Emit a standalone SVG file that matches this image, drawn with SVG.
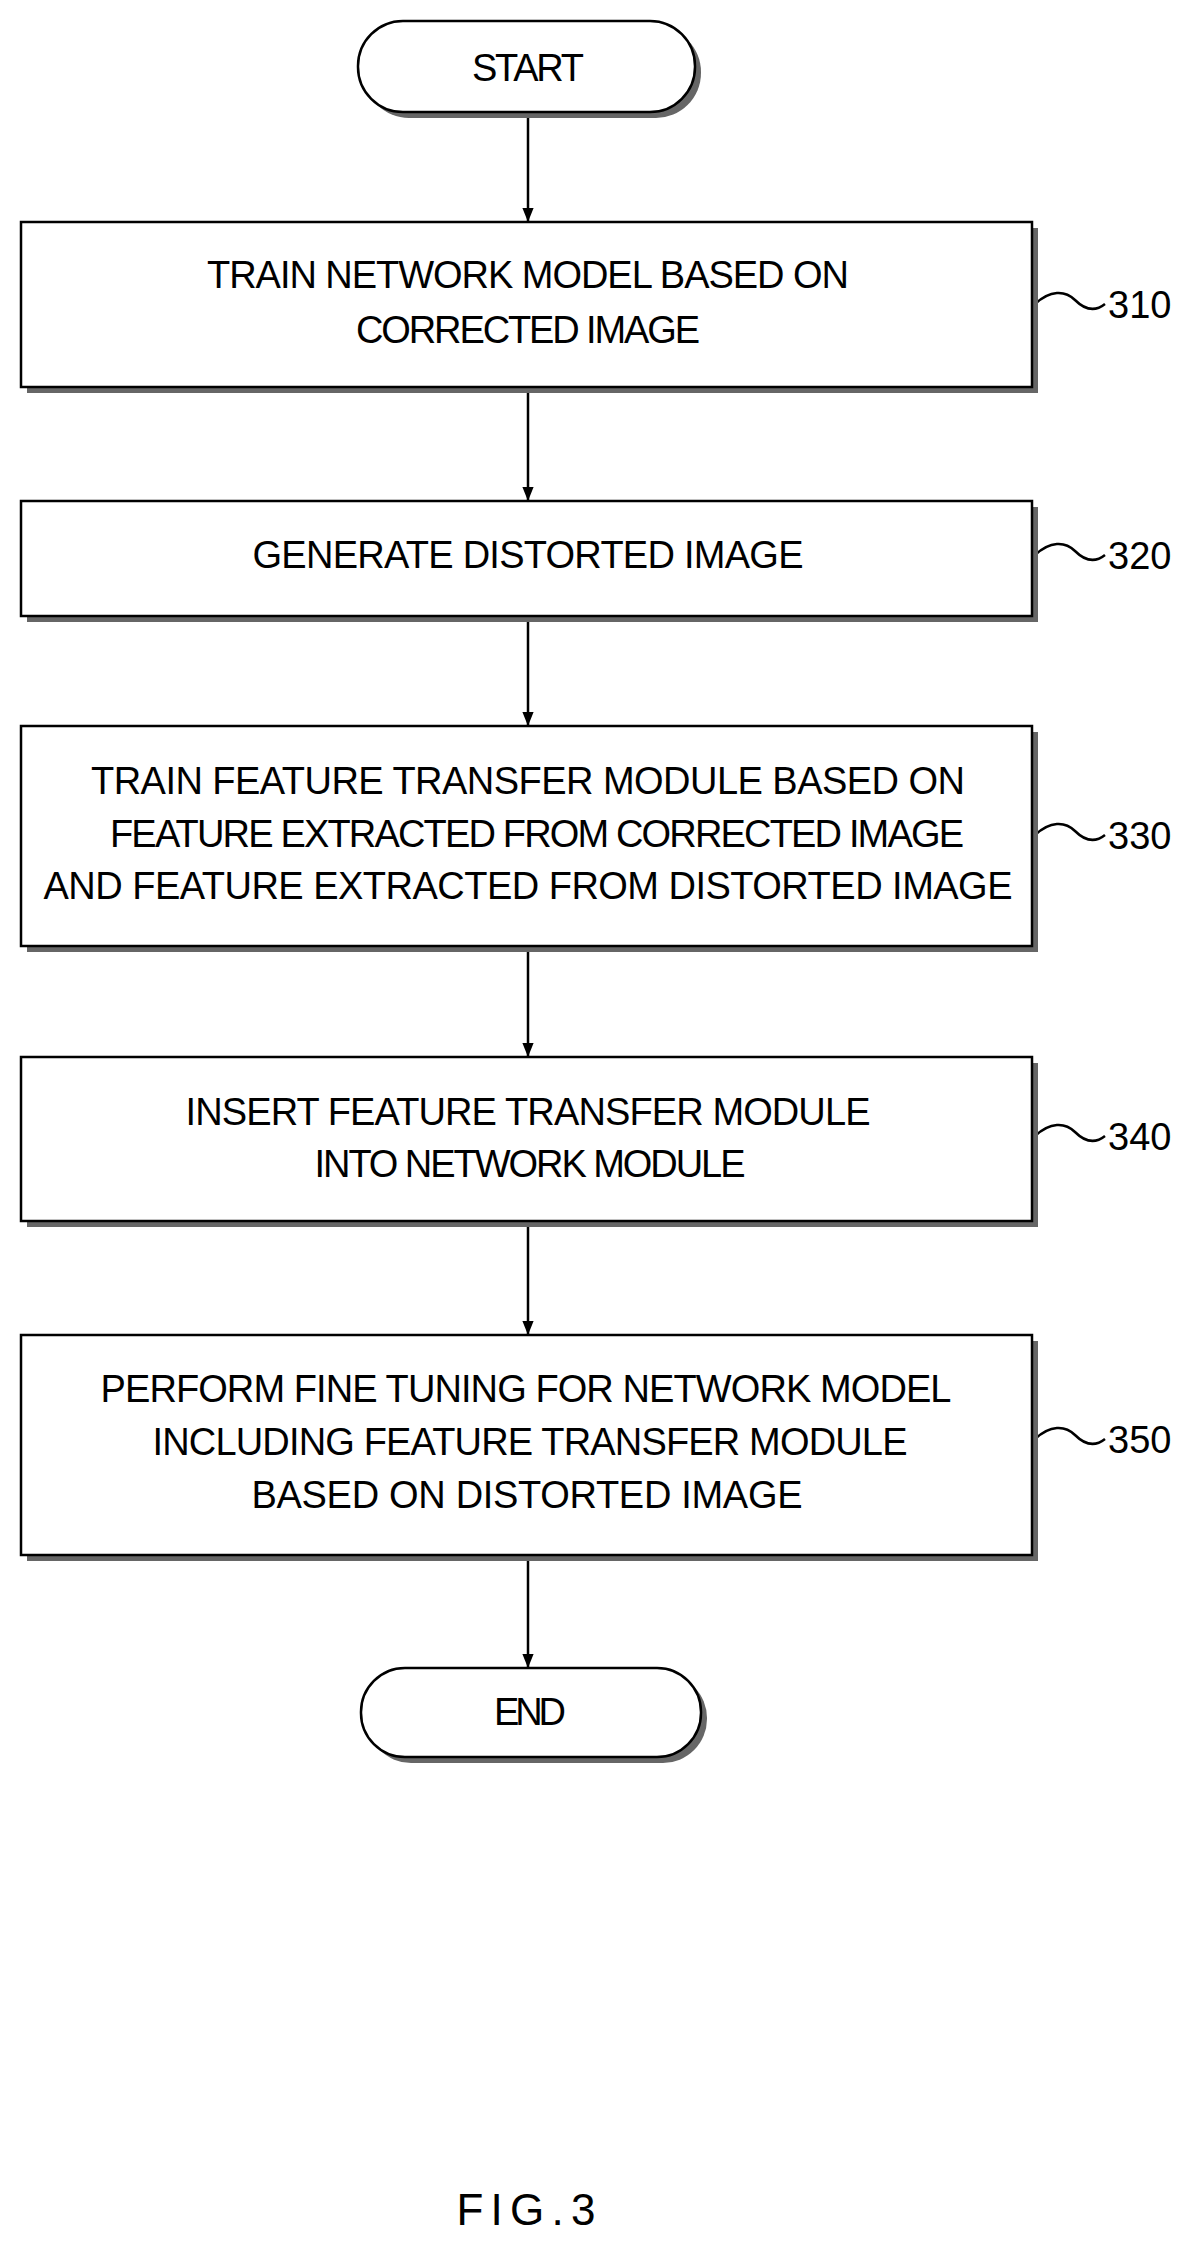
<svg xmlns="http://www.w3.org/2000/svg" width="1198" height="2247" viewBox="0 0 1198 2247">
<style>
.b{fill:#fff;stroke:#000;stroke-width:2.5}
.s{fill:#666}
.t{font-family:"Liberation Sans",sans-serif;font-size:38px;fill:#000;text-anchor:middle}
.l{font-family:"Liberation Sans",sans-serif;font-size:38px;fill:#000}
.c{stroke:#000;stroke-width:2.5;fill:none}
</style>
<defs><marker id="a" viewBox="0 0 10 10" refX="10" refY="5" markerWidth="14" markerHeight="14" markerUnits="userSpaceOnUse" orient="auto"><path d="M0,1 L10,5 L0,9 Z" fill="#000"/></marker></defs>
<rect width="1198" height="2247" fill="#fff"/>
<g id="connectors">
<line class="c" x1="528" y1="112" x2="528" y2="222" marker-end="url(#a)"/>
<line class="c" x1="528" y1="391" x2="528" y2="501" marker-end="url(#a)"/>
<line class="c" x1="528" y1="620" x2="528" y2="726" marker-end="url(#a)"/>
<line class="c" x1="528" y1="950" x2="528" y2="1057" marker-end="url(#a)"/>
<line class="c" x1="528" y1="1225" x2="528" y2="1335" marker-end="url(#a)"/>
<line class="c" x1="528" y1="1559" x2="528" y2="1668" marker-end="url(#a)"/>
<path class="c" d="M1035,304 C1050,290 1065,290 1075,300 C1085,310 1095,312 1105,304"/>
<path class="c" d="M1035,555 C1050,541 1065,541 1075,551 C1085,561 1095,563 1105,555"/>
<path class="c" d="M1035,835 C1050,821 1065,821 1075,831 C1085,841 1095,843 1105,835"/>
<path class="c" d="M1035,1136 C1050,1122 1065,1122 1075,1132 C1085,1142 1095,1144 1105,1136"/>
<path class="c" d="M1035,1439 C1050,1425 1065,1425 1075,1435 C1085,1445 1095,1447 1105,1439"/>
</g>
<g id="start"><rect class="s" x="364" y="27" width="337" height="91" rx="45"/><rect class="b" x="358" y="21" width="337" height="91" rx="45"/><text class="t" x="528" y="81" textLength="112">START</text></g>
<g id="n310"><rect class="s" x="27" y="228" width="1011" height="165"/><rect class="b" x="21" y="222" width="1011" height="165"/><text class="t" x="528" y="288" textLength="642">TRAIN NETWORK MODEL BASED ON</text><text class="t" x="528" y="343" textLength="344">CORRECTED IMAGE</text><text class="l" x="1108" y="318">310</text></g>
<g id="n320"><rect class="s" x="27" y="507" width="1011" height="115"/><rect class="b" x="21" y="501" width="1011" height="115"/><text class="t" x="528" y="568" textLength="551">GENERATE DISTORTED IMAGE</text><text class="l" x="1108" y="569">320</text></g>
<g id="n330"><rect class="s" x="27" y="732" width="1011" height="220"/><rect class="b" x="21" y="726" width="1011" height="220"/><text class="t" x="528" y="794" textLength="874">TRAIN FEATURE TRANSFER MODULE BASED ON</text><text class="t" x="537" y="847" textLength="854">FEATURE EXTRACTED FROM CORRECTED IMAGE</text><text class="t" x="528" y="899" textLength="969">AND FEATURE EXTRACTED FROM DISTORTED IMAGE</text><text class="l" x="1108" y="849">330</text></g>
<g id="n340"><rect class="s" x="27" y="1063" width="1011" height="164"/><rect class="b" x="21" y="1057" width="1011" height="164"/><text class="t" x="528" y="1125" textLength="685">INSERT FEATURE TRANSFER MODULE</text><text class="t" x="530" y="1177" textLength="431">INTO NETWORK MODULE</text><text class="l" x="1108" y="1150">340</text></g>
<g id="n350"><rect class="s" x="27" y="1341" width="1011" height="220"/><rect class="b" x="21" y="1335" width="1011" height="220"/><text class="t" x="526" y="1402" textLength="851">PERFORM FINE TUNING FOR NETWORK MODEL</text><text class="t" x="530" y="1455" textLength="755">INCLUDING FEATURE TRANSFER MODULE</text><text class="t" x="527" y="1508" textLength="551">BASED ON DISTORTED IMAGE</text><text class="l" x="1108" y="1453">350</text></g>
<g id="end"><rect class="s" x="367" y="1674" width="340" height="89" rx="44"/><rect class="b" x="361" y="1668" width="340" height="89" rx="44"/><text class="t" x="530" y="1725" textLength="72">END</text></g>
<text class="t" x="526" y="2225" textLength="139" style="font-size:44px">FIG.3</text>
</svg>
